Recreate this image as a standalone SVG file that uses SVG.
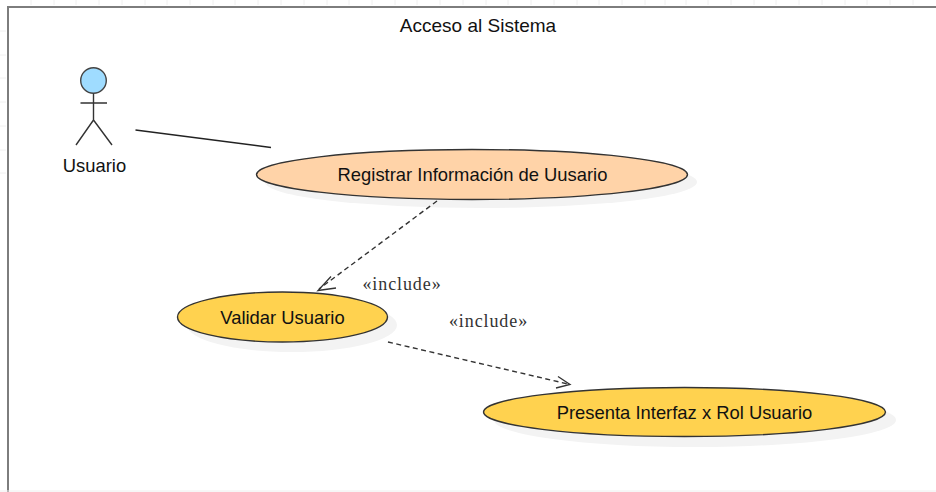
<svg xmlns="http://www.w3.org/2000/svg" width="936" height="492" viewBox="0 0 936 492">
<style>
.t{font-family:"Liberation Sans",Arial,sans-serif;font-size:18.4px;fill:#111;text-anchor:middle}
.s{font-family:"Liberation Serif","Times New Roman",serif;font-size:18px;letter-spacing:.9px;fill:#333;text-anchor:middle}
.shadow{fill:#f3f3f3;stroke:none}
.e{stroke:#333;stroke-width:1.4}
.o{fill:#ffd3a8}
.y{fill:#ffd24f}
.grid{stroke:#f0f0f0;stroke-width:1}
.c{fill:none;stroke:#222;stroke-width:1.4}
.d{fill:none;stroke:#333;stroke-width:1.4;stroke-dasharray:5 3.5}
.a{fill:none;stroke:#333;stroke-width:1.3}
</style>
<rect width="936" height="492" fill="#fff"/>
<g id="frame">
<path class="grid" d="M31 0V5M54 0V5M76 0V5M99 0V5M122 0V5M145 0V5M167 0V5M190 0V5M213 0V5M235 0V5M258 0V5M281 0V5M304 0V5M327 0V5M349 0V5M372 0V5M395 0V5M417 0V5M440 0V5M463 0V5M486 0V5M508 0V5M531 0V5M554 0V5M577 0V5M599 0V5M622 0V5M645 0V5M665 0V5M686 0V5M708 0V5M731 0V5M754 0V5M776 0V5M799 0V5M822 0V5M845 0V5M867 0V5M890 0V5M913 0V5M0 31H6M0 55H6M0 78H6M0 102H6M0 126H6M0 150H6M0 173H6"/>
<path d="M8 492V7H936" fill="none" stroke="#7d7d7d" stroke-width="2"/>
<path d="M0 491H936" stroke="#eee" stroke-width="1"/>
<text class="t" x="478" y="32" style="font-size:19px">Acceso al Sistema</text>
</g>
<g id="actor-usuario">
<circle cx="93.500" cy="80.500" r="12.800" fill="#9fdcff" stroke="#444" stroke-width="1.400"/>
<path d="M93.500 93.500V120M80.500 103H107M93.500 120L76 145M93.500 120L112 145" fill="none" stroke="#333" stroke-width="1.400"/>
<text class="t" x="94.500" y="172">Usuario</text>
</g>
<g id="uc-registrar">
<ellipse class="shadow" cx="481" cy="182" rx="216" ry="26"/>
<ellipse class="e o" cx="472" cy="174.500" rx="215.500" ry="25"/>
<text class="t" x="472.500" y="181">Registrar Información de Uusario</text>
</g>
<g id="uc-validar">
<ellipse class="shadow" cx="292" cy="325" rx="105" ry="27"/>
<ellipse class="e y" cx="282.500" cy="317" rx="105" ry="25"/>
<text class="t" x="282.500" y="323.500">Validar Usuario</text>
</g>
<g id="uc-presenta">
<ellipse class="shadow" cx="695" cy="420" rx="201" ry="27"/>
<ellipse class="e y" cx="684.500" cy="412" rx="201" ry="24.500"/>
<text class="t" x="684.500" y="419">Presenta Interfaz x Rol Usuario</text>
</g>
<g id="connectors">
<path class="c" d="M135.500 130L271 147.500"/>
<path class="d" d="M437 201L319 289"/>
<path class="a" d="M331 276.500L318 290.500L336 288"/>
<path class="d" d="M388 342L568 384"/>
<path class="a" d="M558 376.500L570 384.500L556 388"/>
</g>
<g id="labels">
<text class="s" x="402" y="290">«include»</text>
<text class="s" x="488.500" y="327">«include»</text>
</g>
</svg>
